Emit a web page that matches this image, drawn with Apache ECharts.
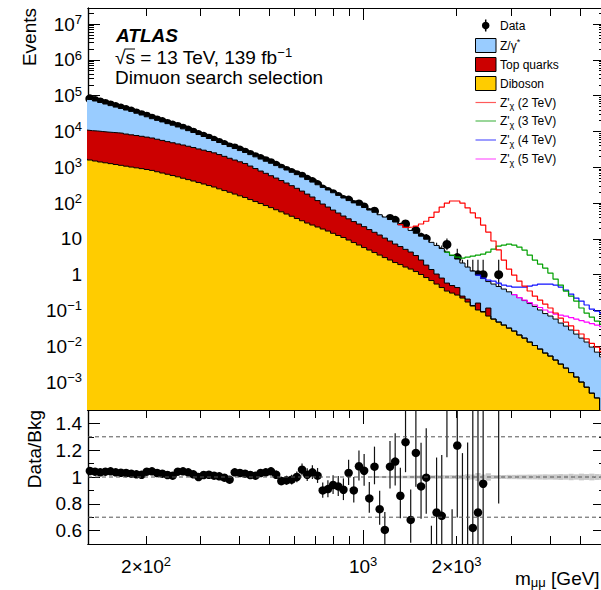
<!DOCTYPE html>
<html>
<head>
<meta charset="utf-8">
<title>Dimuon search selection</title>
<script src="https://cdn.jsdelivr.net/npm/echarts@6.0.0/dist/echarts.min.js"></script>
<style>
  html, body { margin: 0; padding: 0; background: #fff; }
  #chart { width: 601px; height: 590px; }
</style>
</head>
<body>
<div id="chart"></div>
<script>
// mass binning in log10(m / GeV), 60 bins per decade
var firstEdge = 2.095;
var binsPerDecade = 60;

// expected events per bin
var diboson = [
  1690, 1590, 1490, 1400, 1330, 1260, 1190, 1130, 1070, 1010,
  962, 914, 863, 815, 748, 689, 637, 586, 540, 493,
  451, 412, 374, 340, 308, 280, 249, 223, 200, 178,
  159, 143, 125, 110, 96.8, 85.1, 74.5, 65.0, 56.8, 49.3,
  42.8, 36.9, 32.0, 27.6, 24.3, 21.4, 18.8, 16.5, 14.3, 12.4,
  10.9, 9.25, 7.88, 6.71, 5.71, 4.86, 4.14, 3.52, 3.00, 2.56,
  2.18, 1.91, 1.63, 1.43, 1.22, 1.01, 0.830, 0.684, 0.546, 0.436,
  0.348, 0.306, 0.269, 0.222, 0.172, 0.133, 0.103, 0.0902, 0.0698, 0.0575,
  0.0474, 0.0391, 0.0322, 0.0266, 0.0206, 0.0169, 0.0131, 0.0105, 0.00836, 0.00646,
  0.00532, 0.00412, 0.00318, 0.00246, 0.00184, 0.00138, 0.00100, 0.00072, 0.00049, 0.00036,
  0.000145, 0.0001
];
var topQuarks = [
  9210, 8910, 8810, 8540, 8290, 8120, 7950, 7780, 7390, 7030,
  6720, 6390, 6070, 5740, 5310, 4920, 4550, 4240, 3940, 3680,
  3410, 3140, 2870, 2650, 2440, 2240, 2010, 1790, 1580, 1410,
  1260, 1130, 955, 810, 686, 591, 505, 434, 368, 313,
  263, 221, 184, 150, 123, 95.6, 75.0, 60.8, 49.4, 40.2,
  32.5, 27.0, 22.5, 19.2, 16.2, 13.3, 11.1, 9.28, 7.50, 6.13,
  4.98, 4.19, 3.46, 2.85, 2.20, 1.55, 1.02, 0.706, 0.494, 0.367,
  0.234, 0.191, 0.167, 0.030, 0.036, 0.004, 0.058, 0.003, 0.047, 0,
  0, 0, 0, 0, 0, 0, 0, 0, 0, 0,
  0, 0, 0, 0, 0, 0, 0, 0, 0, 0,
  0, 0
];
var zGamma = [
  74800, 67300, 60400, 54200, 48600, 43200, 38600, 34700, 31100, 28200,
  24500, 21400, 18700, 16100, 14300, 12800, 11300, 10100, 8820, 7630,
  6640, 5770, 4950, 4220, 3590, 3050, 2640, 2300, 2000, 1740,
  1500, 1310, 1170, 1030, 907, 794, 711, 611, 543, 474,
  415, 363, 316, 275, 237, 207, 179, 154, 130, 111,
  94.6, 80.8, 70.6, 61.0, 53.0, 45.5, 39.8, 34.3, 30.1, 25.9,
  22.3, 18.7, 15.6, 12.9, 10.9, 9.34, 7.90, 6.59, 5.51, 4.56,
  3.70, 2.92, 2.29, 1.86, 1.42, 1.12, 0.814, 0.685, 0.524, 0.489,
  0.419, 0.357, 0.299, 0.251, 0.208, 0.172, 0.143, 0.119, 0.0946, 0.0754,
  0.0645, 0.0534, 0.0413, 0.0341, 0.0266, 0.0205, 0.0159, 0.0124, 0.0090, 0.0065,
  0.0049, 0.0035
];

// observed events and Data/Bkg ratio
var observed = [
  89600, 81300, 73500, 66300, 60500, 54800, 49400, 45000, 40800, 37100,
  32800, 29200, 26600, 23500, 21000, 18900, 16700, 15000, 13800, 12300,
  10900, 9510, 8190, 7320, 6450, 5630, 4920, 4290, 3700, 3450,
  3010, 2640, 2280, 1970, 1740, 1520, 1340, 1130, 939, 815,
  707, 621, 561, 461, 397, 327, 246, 210, 182, 153,
  125, 121, 91, 94, 78, 54, 59, 36, 25, 37,
  33, 21, 26, 12, 17, 11, 10, 3, 5, 4,
  7, 1, 3, 1, 1, 1, 1, 1, 0, 0,
  1, 0, 0, 0, 0, 0, 0, 0, 0, 0,
  0, 0, 0, 0, 0, 0, 0, 0, 0, 0,
  0, 0
];
var dataOverBkg = [
  1.045, 1.045, 1.04, 1.035, 1.04, 1.042, 1.035, 1.032, 1.03, 1.025,
  1.02, 1.017, 1.04, 1.042, 1.03, 1.025, 1.015, 1.01, 1.04, 1.042,
  1.035, 1.02, 1.0, 1.015, 1.017, 1.01, 1.005, 0.995, 0.98, 1.035,
  1.03, 1.025, 1.015, 1.01, 1.03, 1.035, 1.042, 1.017, 0.97, 0.975,
  0.98, 1.0, 1.055, 1.017, 1.035, 1.01, 0.9, 0.91, 0.94, 0.93,
  0.905, 1.03, 0.9, 1.08, 1.047, 0.84, 1.077, 0.76, 0.605, 1.077,
  1.115, 0.86, 1.26, 0.68, 1.18, 0.93, 0.995, 0.36, 0.735, 0.71,
  1.67, 0.29, 1.235, 0.45, 0.48, 0.62, 0.735, 0.95, null, null,
  2.1, null, null, null, null, null, null, null, null, null,
  null, null, null, null, null, null, null, null, null, null,
  null, null
];

// Z'_chi signal on top of background, starting at a bin index
var zp2Start = 61;
var zp2 = [
  24.8, 20.9, 21.4, 22.8, 26, 31, 40, 56, 77, 100,
  114, 114, 100, 73, 53, 38.6, 24.3, 15.5, 8.7, 4.9,
  2.56, 1.43, 0.975, 0.66, 0.48, 0.35, 0.25, 0.195, 0.151, 0.117,
  0.085, 0.061, 0.047, 0.037, 0.028, 0.022, 0.016, 0.012, 0.0095, 0.0071,
  0.0053
];
var zp3Start = 70;
var zp3 = [
  4.28, 3.52, 3.10, 2.91, 3.10, 3.31, 3.52, 3.76, 4.28, 5.19,
  6.29, 6.71, 7.16, 6.71, 5.90, 4.86, 3.52, 2.56, 1.98, 1.53,
  1.11, 0.754, 0.512, 0.348, 0.252, 0.183, 0.117, 0.0845, 0.0655, 0.0506,
  0.0417, 0.0322
];
var zp4Start = 76;
var zp4 = [
  0.975, 0.803, 0.706, 0.662, 0.582, 0.512, 0.481, 0.451, 0.451, 0.451,
  0.481, 0.512, 0.546, 0.546, 0.546, 0.512, 0.451, 0.372, 0.287, 0.222,
  0.183, 0.142, 0.109, 0.0962, 0.0845, 0.0698
];
var zp5Start = 83;
var zp5 = [
  0.278, 0.229, 0.195, 0.166, 0.142, 0.121, 0.103, 0.0902, 0.0793, 0.0740,
  0.0698, 0.0634, 0.0575, 0.0523, 0.0474, 0.0431, 0.0391, 0.0355, 0.0322
];

// grey uncertainty band in the ratio panel (half width)
var bandStart = 56;
var bandErr = [
  0.006, 0.007, 0.008, 0.008, 0.009, 0.010, 0.010, 0.011, 0.011, 0.012,
  0.012, 0.012, 0.013, 0.013, 0.014, 0.014, 0.015, 0.016, 0.020, 0.018,
  0.030, 0.018, 0.028, 0.015, 0.015, 0.015, 0.016, 0.016, 0.017, 0.017,
  0.018, 0.018, 0.019, 0.020, 0.019, 0.020, 0.022, 0.020, 0.024, 0.020,
  0.025, 0.022, 0.025, 0.022, 0.020, 0.020
];

// ticks
var xMinorTicks = [200, 300, 400, 500, 600, 700, 800, 900, 2000, 3000, 4000, 5000];
var xMajorTicks = [1000];
var xLabelTicks = [200, 1000, 2000];
var yDecades = [-3, -2, -1, 0, 1, 2, 3, 4, 5, 6, 7];
var ratioMajor = [0.6, 0.8, 1.0, 1.2, 1.4];
var ratioMinor = [0.7, 0.9, 1.1, 1.3];
var ratioLines = [1.3, 1.0, 0.7];

var FONT = '"Liberation Sans", Arial, Helvetica, sans-serif';
var X_MIN = 2.114, X_MAX = 3.7791;
var Y_MIN = -3.78, Y_MAX = 7.447;
var R_MIN = 0.5, R_MAX = 1.5;

var lg = Math.log10;
function edge(i) { return firstEdge + i / binsPerDecade; }
function center(i) { return edge(i) + 0.5 / binsPerDecade; }

function steps(vals, start) {
  var pts = [];
  for (var j = 0; j < vals.length; j++) {
    var y = vals[j] > 0 ? lg(vals[j]) : Y_MIN - 2;
    pts.push([edge(start + j), y], [edge(start + j + 1), y]);
  }
  return pts;
}

// stacked totals
var sumDib = [], sumTop = [], sumAll = [];
for (var k = 0; k < diboson.length; k++) {
  sumDib.push(diboson[k]);
  sumTop.push(diboson[k] + topQuarks[k]);
  sumAll.push(diboson[k] + topQuarks[k] + zGamma[k]);
}

// poisson-ish error bars
function poisErr(n) { var s = Math.sqrt(n + 0.25); return [s - 0.5, s + 0.5]; }

var dataPts = [], dataErr = [], ratioPts = [], ratioErr = [];
observed.forEach(function (n, k) {
  if (n <= 0) return;
  var c = center(k);
  if (c < X_MIN) return;
  var e = poisErr(n);
  dataPts.push([c, lg(n)]);
  dataErr.push([c, Math.max(lg(n - e[0]), Y_MIN), Math.min(lg(n + e[1]), Y_MAX)]);
  var r = dataOverBkg[k];
  if (r == null) return;
  ratioPts.push([c, r]);
  var lo = Math.max(r * (n - e[0]) / n, R_MIN), hi = Math.min(r * (n + e[1]) / n, R_MAX);
  if (hi > lo) ratioErr.push([c, lo, hi]);
});

var bandRects = bandErr.map(function (e, j) {
  var k = bandStart + j;
  return [edge(k), Math.min(edge(k + 1), X_MAX), 1 - e, 1 + e];
});

function tickAxis(grid, pos, min, max, ticks, len, label) {
  return {
    type: 'value', gridIndex: grid, position: pos, min: min, max: max,
    axisLine: { show: true, onZero: false, lineStyle: { color: '#000', width: 1.2 } },
    axisTick: { show: true, inside: true, length: len, customValues: ticks,
      lineStyle: { color: '#000', width: 1 } },
    axisLabel: label || { show: false },
    splitLine: { show: false },
    minorTick: { show: false }
  };
}

var supRich = {
  b: { fontSize: 19, fontFamily: FONT, color: '#000', lineHeight: 22 },
  s: { fontSize: 13, fontFamily: FONT, color: '#000', lineHeight: 13, verticalAlign: 'top' }
};

var yMinorTicks = [];
for (var n = -4; n <= 7; n++) {
  for (var m = 2; m <= 9; m++) {
    var v = n + lg(m);
    if (v > Y_MIN && v < Y_MAX) yMinorTicks.push(v);
  }
}
var xMinorLog = xMinorTicks.map(lg), xMajorLog = xMajorTicks.map(lg);

var xLabel = {
  show: true, margin: 11, customValues: xLabelTicks.map(lg), rich: supRich,
  formatter: function (v) {
    var mm = Math.round(Math.pow(10, v));
    if (mm === 1000) return '{b|10}{s|3}';
    if (mm === 200) return '{b|2×10}{s|2}';
    return '{b|2×10}{s|3}';
  }
};
var yLabel = {
  show: true, margin: 6, customValues: yDecades, rich: supRich,
  formatter: function (v) {
    var p = Math.round(v);
    if (p === 0) return '{b|1}';
    if (p === 1) return '{b|10}';
    return '{b|10}{s|' + (p < 0 ? '\u2212' + (-p) : p) + '}';
  }
};
var rLabel = {
  show: true, margin: 6, customValues: ratioMajor,
  fontSize: 19, fontFamily: FONT, color: '#000',
  formatter: function (v) { return String(Math.round(v * 10) / 10); }
};

var xAxes = [
  tickAxis(0, 'bottom', X_MIN, X_MAX, xMinorLog, 8),
  tickAxis(0, 'bottom', X_MIN, X_MAX, xMajorLog, 12),
  tickAxis(0, 'top', X_MIN, X_MAX, xMinorLog, 8),
  tickAxis(0, 'top', X_MIN, X_MAX, xMajorLog, 12),
  tickAxis(1, 'bottom', X_MIN, X_MAX, xMinorLog, 8, xLabel),
  tickAxis(1, 'bottom', X_MIN, X_MAX, xMajorLog, 14),
  tickAxis(1, 'top', X_MIN, X_MAX, xMinorLog, 8),
  tickAxis(1, 'top', X_MIN, X_MAX, xMajorLog, 14)
];
var yAxes = [
  tickAxis(0, 'left', Y_MIN, Y_MAX, yDecades, 12, yLabel),
  tickAxis(0, 'left', Y_MIN, Y_MAX, yMinorTicks, 6),
  tickAxis(0, 'right', Y_MIN, Y_MAX, yDecades, 12),
  tickAxis(0, 'right', Y_MIN, Y_MAX, yMinorTicks, 6),
  tickAxis(1, 'left', R_MIN, R_MAX, ratioMajor, 12, rLabel),
  tickAxis(1, 'left', R_MIN, R_MAX, ratioMinor, 6),
  tickAxis(1, 'right', R_MIN, R_MAX, ratioMajor, 12),
  tickAxis(1, 'right', R_MIN, R_MAX, ratioMinor, 6)
];

function stackSeries(name, vals, color) {
  return {
    name: name, type: 'line', xAxisIndex: 0, yAxisIndex: 0,
    data: steps(vals, 0), symbol: 'none', showSymbol: false, clip: true,
    lineStyle: { color: '#000', width: 1 },
    areaStyle: { color: color, opacity: 1, origin: 'start' }
  };
}
function signalSeries(name, vals, start, color) {
  return {
    name: name, type: 'line', xAxisIndex: 0, yAxisIndex: 0,
    data: steps(vals, start), symbol: 'none', showSymbol: false, clip: true,
    lineStyle: { color: color, width: 1.2 }
  };
}
function errSeries(xi, yi, pts) {
  return {
    type: 'custom', xAxisIndex: xi, yAxisIndex: yi, data: pts, clip: true,
    renderItem: function (params, api) {
      var a = api.coord([api.value(0), api.value(1)]);
      var b = api.coord([api.value(0), api.value(2)]);
      return { type: 'line', shape: { x1: a[0], y1: a[1], x2: b[0], y2: b[1] },
        style: { stroke: '#111', lineWidth: 1.2 } };
    }
  };
}
function dotSeries(name, xi, yi, pts, size) {
  return {
    name: name, type: 'scatter', xAxisIndex: xi, yAxisIndex: yi,
    data: pts, symbol: 'circle', symbolSize: size, clip: true,
    itemStyle: { color: '#000', opacity: 1 }
  };
}

var series = [
  stackSeries('Z/γ*', sumAll, '#99ccff'),
  stackSeries('Top quarks', sumTop, '#cc0000'),
  stackSeries('Diboson', sumDib, '#ffcc00'),
  signalSeries("Z'χ (5 TeV)", zp5, zp5Start, '#ff00ff'),
  signalSeries("Z'χ (4 TeV)", zp4, zp4Start, '#1010ff'),
  signalSeries("Z'χ (3 TeV)", zp3, zp3Start, '#00a000'),
  signalSeries("Z'χ (2 TeV)", zp2, zp2Start, '#ff0000'),
  errSeries(0, 0, dataErr),
  dotSeries('Data', 0, 0, dataPts, 9),
  {
    type: 'custom', xAxisIndex: 4, yAxisIndex: 4, data: bandRects, clip: true,
    renderItem: function (params, api) {
      var a = api.coord([api.value(0), api.value(3)]);
      var b = api.coord([api.value(1), api.value(2)]);
      return { type: 'rect', shape: { x: a[0], y: a[1], width: b[0] - a[0], height: b[1] - a[1] },
        style: { fill: '#c8c8c8' } };
    }
  }
];
ratioLines.forEach(function (r) {
  series.push({
    type: 'line', xAxisIndex: 4, yAxisIndex: 4, symbol: 'none', silent: true,
    data: [[X_MIN, r], [X_MAX, r]],
    lineStyle: { color: '#555', width: 1, type: [4, 3] }
  });
});
series.push(errSeries(4, 4, ratioErr));
series.push(dotSeries('Data/Bkg', 4, 4, ratioPts, 8.5));

// text, legend
function txt(x, y, text, extra, rotation) {
  var st = { text: text, font: '19px ' + FONT, fill: '#000', textAlign: 'left', textVerticalAlign: 'middle' };
  for (var key in extra) st[key] = extra[key];
  return { type: 'text', x: x, y: y, rotation: rotation || 0, style: st, z: 100 };
}
var legendRich = {
  sup: { fontSize: 9, fontFamily: FONT, fill: '#000', lineHeight: 9, verticalAlign: 'top' },
  sub: { fontSize: 9, fontFamily: FONT, fill: '#000', lineHeight: 9, verticalAlign: 'bottom' }
};
var legendBoxes = [
  { label: 'Z/γ{sup|*}', y: 45.5, color: '#99ccff' },
  { label: 'Top quarks', y: 64.5, color: '#cc0000' },
  { label: 'Diboson', y: 83.5, color: '#ffcc00' }
];
var legendLines = [
  { label: "Z'{sub|χ} (2 TeV)", y: 102.5, color: '#ff5a5a' },
  { label: "Z'{sub|χ} (3 TeV)", y: 121, color: '#55bb55' },
  { label: "Z'{sub|χ} (4 TeV)", y: 140, color: '#5a5aff' },
  { label: "Z'{sub|χ} (5 TeV)", y: 159, color: '#ff5aff' }
];

var graphic = [
  txt(29, 8, 'Events', { textAlign: 'right' }, Math.PI / 2),
  txt(34, 410, 'Data/Bkg', { textAlign: 'right' }, Math.PI / 2),
  txt(116, 35, 'ATLAS', { font: 'italic bold 19px ' + FONT }),
  txt(115, 57, '√s = 13 TeV, 139 fb{sup|\u22121}', { lineHeight: 22,
    rich: { sup: { fontSize: 13, fontFamily: FONT, fill: '#000', lineHeight: 13, verticalAlign: 'top' } } }),
  { type: 'line', shape: { x1: 124.5, y1: 49, x2: 135, y2: 49 }, style: { stroke: '#000', lineWidth: 1 }, z: 100 },
  txt(115, 77, 'Dimuon search selection'),
  txt(515, 578, 'm{sub|μμ} [GeV]', { lineHeight: 22,
    rich: { sub: { fontSize: 13, fontFamily: FONT, fill: '#000', lineHeight: 13, verticalAlign: 'bottom' } } }),
  { type: 'line', shape: { x1: 485.7, y1: 19.5, x2: 485.7, y2: 31.5 }, style: { stroke: '#000', lineWidth: 1.5 }, z: 100 },
  { type: 'circle', shape: { cx: 485.7, cy: 25.5, r: 3.8 }, style: { fill: '#000' }, z: 100 },
  txt(500, 25.5, 'Data', { font: '12px ' + FONT })
];
legendBoxes.forEach(function (it) {
  graphic.push({ type: 'rect', shape: { x: 475.5, y: it.y - 7, width: 20.5, height: 14 },
    style: { fill: it.color, stroke: '#000', lineWidth: 1 }, z: 100 });
  graphic.push(txt(500, it.y, it.label, { font: '12px ' + FONT, lineHeight: 16, rich: legendRich }));
});
legendLines.forEach(function (it) {
  graphic.push({ type: 'line', shape: { x1: 475.5, y1: it.y, x2: 496, y2: it.y },
    style: { stroke: it.color, lineWidth: 1.2 }, z: 100 });
  graphic.push(txt(500, it.y, it.label, { font: '12px ' + FONT, lineHeight: 16, rich: legendRich }));
});

var chart = echarts.init(document.getElementById('chart'), null, { renderer: 'svg' });
chart.setOption({
  animation: false,
  backgroundColor: '#fff',
  textStyle: { fontFamily: FONT },
  grid: [
    { left: 88, top: 8, width: 517, height: 402, outerBoundsMode: 'none', containLabel: false },
    { left: 88, top: 410, width: 517, height: 134, outerBoundsMode: 'none', containLabel: false }
  ],
  xAxis: xAxes,
  yAxis: yAxes,
  series: series,
  graphic: graphic
});
</script>
</body>
</html>
